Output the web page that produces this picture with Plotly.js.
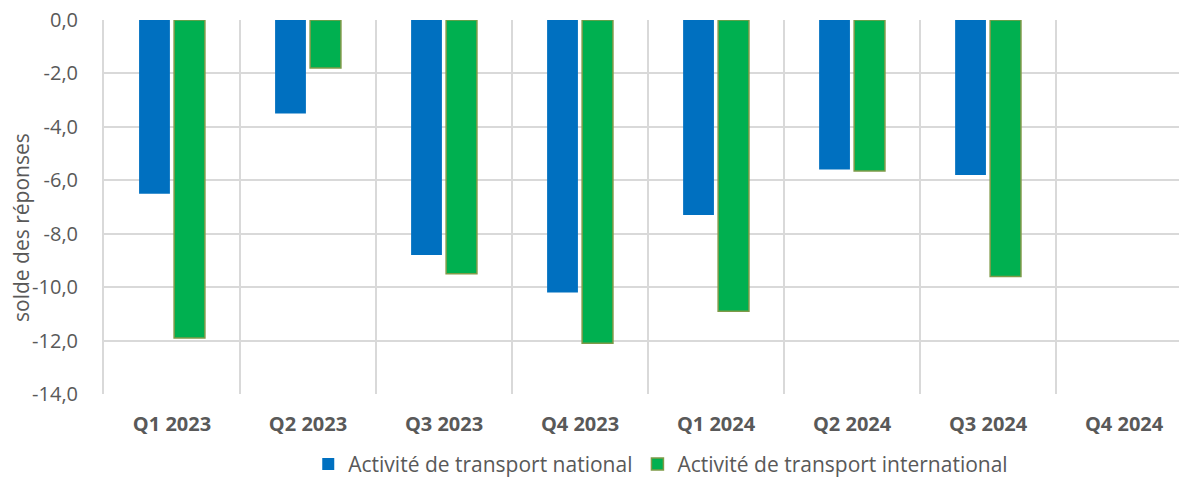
<!DOCTYPE html>
<html>
<head>
<meta charset="utf-8">
<script src="https://cdn.plot.ly/plotly-3.0.1.min.js"></script>
<style>html,body{margin:0;padding:0;background:#fff;}#chart{width:1179px;height:477px;}</style>
</head>
<body>
<div id="chart"></div>
<script>
const categories = ["Q1 2023", "Q2 2023", "Q3 2023", "Q4 2023", "Q1 2024", "Q2 2024", "Q3 2024", "Q4 2024"];
const nationalValues = [-6.5, -3.5, -8.8, -10.2, -7.3, -5.6, -5.8, null];
const internationalValues = [-11.9, -1.8, -9.5, -12.1, -10.9, -5.65, -9.6, null];
const seriesNames = ["Activité de transport national", "Activité de transport international"];
const yTickValues = [0, -2, -4, -6, -8, -10, -12, -14];
const yTitle = "solde des réponses";

const yTickText = yTickValues.map(v => v.toFixed(1).replace(".", ","));

const fontFamily = "'Open Sans', Lato, 'Liberation Sans', sans-serif";
const grey = "#595959";

const traces = [
  {
    type: "bar",
    name: seriesNames[0],
    x: categories,
    y: nationalValues,
    marker: {color: "#0070C0", line: {width: 0}},
    hoverinfo: "none"
  },
  {
    type: "bar",
    name: seriesNames[1],
    x: categories,
    y: internationalValues,
    marker: {color: "#00B050", line: {color: "#7f9a48", width: 1.5}},
    hoverinfo: "none"
  }
];

const layout = {
  width: 1179,
  height: 477,
  margin: {l: 104, r: 0, t: 20, b: 83, autoexpand: false},
  paper_bgcolor: "#ffffff",
  plot_bgcolor: "#ffffff",
  barmode: "group",
  bargap: 0.485,
  bargroupgap: 0.12,
  font: {family: fontFamily, color: grey},
  xaxis: {
    type: "category",
    range: [-0.5, 7.404],
    tickson: "boundaries",
    showgrid: true,
    gridcolor: "#d9d9d9",
    gridwidth: 2,
    ticks: "",
    ticklabelstandoff: 16,
    tickfont: {family: fontFamily, size: 20, color: grey, weight: "bold"},
    zeroline: false,
    showline: false,
    automargin: false
  },
  yaxis: {
    range: [-14, 0],
    tickvals: yTickValues,
    ticktext: yTickText,
    showgrid: true,
    gridcolor: "#d9d9d9",
    gridwidth: 2,
    zeroline: false,
    showline: true,
    linecolor: "#d9d9d9",
    linewidth: 2,
    ticks: "",
    ticklabelstandoff: 20,
    tickfont: {family: fontFamily, size: 20, color: grey},
    automargin: false
  },
  annotations: [
    {
      text: yTitle,
      xref: "paper",
      yref: "paper",
      x: -0.0772,
      y: 0.444,
      xanchor: "center",
      yanchor: "middle",
      textangle: -90,
      showarrow: false,
      font: {family: fontFamily, size: 21, color: grey}
    }
  ],
  showlegend: true,
  legend: {
    orientation: "h",
    x: 0.19,
    xanchor: "left",
    y: -0.1335,
    yanchor: "top",
    font: {family: fontFamily, size: 21, color: grey},
    itemwidth: 30,
    tracegroupgap: 0
  }
};

Plotly.newPlot("chart", traces, layout, {displayModeBar: false, staticPlot: true});
</script>
</body>
</html>
